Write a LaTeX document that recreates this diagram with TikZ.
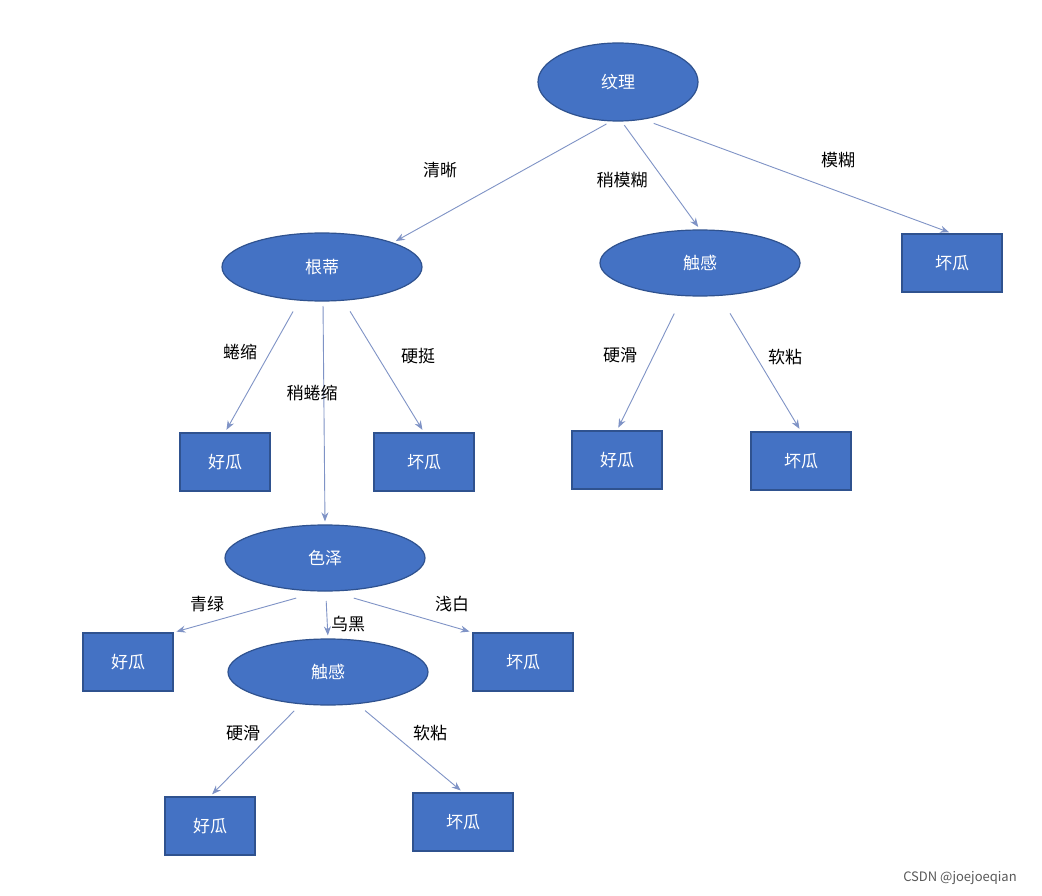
\documentclass[tikz,border=0pt]{standalone}
\usepackage{fontspec}
\setmainfont{Noto Sans CJK SC}
\usetikzlibrary{shapes.geometric,arrows.meta}
\definecolor{nb}{HTML}{4472C4}
\definecolor{nd}{HTML}{2F528F}
\definecolor{ar}{HTML}{7F93C6}
\begin{document}
\begin{tikzpicture}[x=1pt,y=-1pt,
 ell/.style={ellipse,draw=nd,line width=1.2pt,fill=nb,text=white,font=\fontsize{17}{17}\selectfont,inner sep=0},
 leaf/.style={rectangle,draw=nd,line width=1.2pt,fill=nb,text=white,font=\fontsize{17}{17}\selectfont,minimum height=58pt,inner sep=0},
 arr/.style={draw=ar,line width=0.9pt,-{Stealth[length=9pt,width=7pt]},shorten >=3pt,shorten <=4pt},
 lab/.style={font=\fontsize{17}{17}\selectfont,text=black}]
\path[use as bounding box,fill=white] (0,0) rectangle (1042,896);
\node[ell,minimum width=160pt,minimum height=78pt] (w) at (618,82) {纹理};
\node[ell,minimum width=200pt,minimum height=68pt] (g) at (322,267) {根蒂};
\node[ell,minimum width=200pt,minimum height=66pt] (c1) at (700,263) {触感};
\node[leaf,minimum width=100pt] (b1) at (952,263) {坏瓜};
\node[leaf,minimum width=90pt] (h1) at (225,462) {好瓜};
\node[leaf,minimum width=100pt] (b2) at (424,462) {坏瓜};
\node[leaf,minimum width=90pt] (h2) at (617,460) {好瓜};
\node[leaf,minimum width=100pt] (b3) at (801,461) {坏瓜};
\node[ell,minimum width=200pt,minimum height=66pt] (s) at (325,558) {色泽};
\node[leaf,minimum width=90pt] (h3) at (128,662) {好瓜};
\node[leaf,minimum width=100pt] (b4) at (523,662) {坏瓜};
\node[ell,minimum width=200pt,minimum height=66pt] (c2) at (328,672) {触感};
\node[leaf,minimum width=90pt] (h4) at (210,826) {好瓜};
\node[leaf,minimum width=100pt] (b5) at (463,822) {坏瓜};
\coordinate (w1) at (610,122); \coordinate (w2) at (622,122); \coordinate (w3) at (650,122);
\coordinate (g1) at (295,308); \coordinate (g2) at (323,302); \coordinate (g3) at (348,308);
\coordinate (c11) at (676,310); \coordinate (c12) at (728,310);
\coordinate (s1) at (300,597); \coordinate (s2) at (326,597); \coordinate (s3) at (350,597);
\coordinate (c21) at (297,708); \coordinate (c22) at (362,708);
\draw[arr] (w1) -- (g.north east);
\draw[arr] (w2) -- (c1.north);
\draw[arr] (w3) -- (b1.north);
\draw[arr] (g1) -- (h1.north);
\draw[arr] (g2) -- (s.north);
\draw[arr] (g3) -- (b2.north);
\draw[arr] (c11) -- (h2.north);
\draw[arr] (c12) -- (b3.north);
\draw[arr] (s1) -- (h3.north east);
\draw[arr] (s2) -- (c2.north);
\draw[arr] (s3) -- (b4.north west);
\draw[arr] (c21) -- (h4.north);
\draw[arr] (c22) -- (b5.north);
\node[lab] (l1) at (440,170) {清晰};
\node[lab] (l2) at (622,180) {稍模糊};
\node[lab] (l3) at (838,160) {模糊};
\node[lab] (l4) at (240,352) {蜷缩};
\node[lab] (l5) at (312,393) {稍蜷缩};
\node[lab] (l6) at (418,356) {硬挺};
\node[lab] (l7) at (620,355) {硬滑};
\node[lab] (l8) at (785,357) {软粘};
\node[lab] (l9) at (207,604) {青绿};
\node[lab] (l10) at (348,624) {乌黑};
\node[lab] (l11) at (452,604) {浅白};
\node[lab] (l12) at (243,733) {硬滑};
\node[lab] (l13) at (430,733) {软粘};
\node[font=\fontsize{13}{13}\selectfont,text=gray!70!black] (wm) at (960,878) {CSDN @joejoeqian};
\end{tikzpicture}
\end{document}
